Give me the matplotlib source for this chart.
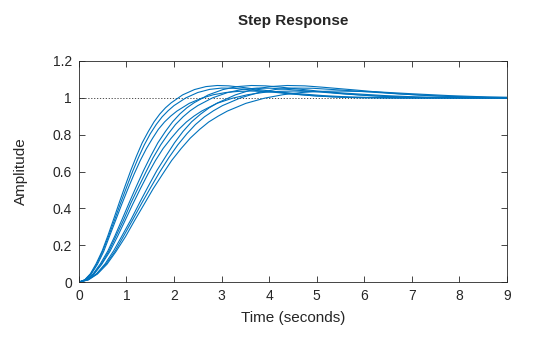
import matplotlib
matplotlib.use('Agg')
import matplotlib.pyplot as plt

# Amplitude samples (three overshoot levels)
y_mid = [0, 0.012, 0.045, 0.098, 0.168, 0.250, 0.338, 0.428, 0.514, 0.598, 0.675, 0.745, 0.805,
         0.855, 0.897, 0.930, 0.958, 1.000, 1.029, 1.046, 1.053, 1.052, 1.046, 1.033, 1.020, 1.010,
         1.004, 1.001, 0.999, 1.000, 1.000]
y_high = [0, 0.012, 0.045, 0.099, 0.170, 0.253, 0.342, 0.433, 0.521, 0.606, 0.684, 0.756, 0.818,
          0.870, 0.912, 0.946, 0.973, 1.016, 1.045, 1.061, 1.067, 1.065, 1.058, 1.042, 1.025, 1.013,
          1.005, 1.001, 0.999, 1.000, 1.000]
y_low = [0, 0.012, 0.044, 0.097, 0.166, 0.247, 0.334, 0.422, 0.506, 0.586, 0.660, 0.725, 0.781,
         0.829, 0.869, 0.901, 0.928, 0.970, 0.998, 1.017, 1.029, 1.035, 1.037, 1.033, 1.022, 1.012,
         1.005, 1.002, 1.000, 1.000, 1.000]

# Time samples for each of the nine responses (three groups of three)
t1 = [0, 0.12, 0.24, 0.36, 0.49, 0.61, 0.73, 0.85, 0.97, 1.09, 1.21, 1.33, 1.46, 1.58, 1.70, 1.82,
      1.94, 2.18, 2.43, 2.67, 2.91, 3.15, 3.40, 3.88, 4.37, 4.85, 5.34, 5.82, 6.79, 7.76, 9.0]
t2 = [0, 0.125, 0.25, 0.375, 0.5, 0.625, 0.75, 0.875, 1.0, 1.125, 1.25, 1.375, 1.5, 1.625, 1.75,
      1.875, 2.0, 2.25, 2.5, 2.75, 3.0, 3.25, 3.5, 4.0, 4.5, 5.0, 5.5, 6.0, 7.0, 8.0, 9.0]
t3 = [0, 0.13, 0.26, 0.39, 0.52, 0.64, 0.77, 0.90, 1.03, 1.16, 1.29, 1.42, 1.55, 1.67, 1.80, 1.93,
      2.06, 2.32, 2.58, 2.83, 3.09, 3.35, 3.61, 4.12, 4.64, 5.15, 5.67, 6.18, 7.21, 8.24, 9.27]
t4 = [0, 0.15, 0.30, 0.45, 0.61, 0.76, 0.91, 1.06, 1.21, 1.36, 1.51, 1.66, 1.82, 1.97, 2.12, 2.27,
      2.42, 2.72, 3.03, 3.33, 3.63, 3.93, 4.24, 4.84, 5.45, 6.05, 6.66, 7.26, 8.47, 9.68, 10.89]
t5 = [0, 0.16, 0.31, 0.47, 0.63, 0.78, 0.94, 1.09, 1.25, 1.41, 1.56, 1.72, 1.88, 2.03, 2.19, 2.34,
      2.50, 2.81, 3.13, 3.44, 3.75, 4.06, 4.38, 5.00, 5.63, 6.25, 6.88, 7.50, 8.75, 10.0, 11.25]
t6 = [0, 0.16, 0.32, 0.48, 0.65, 0.81, 0.97, 1.13, 1.29, 1.45, 1.61, 1.77, 1.94, 2.10, 2.26, 2.42,
      2.58, 2.90, 3.23, 3.55, 3.87, 4.19, 4.52, 5.16, 5.81, 6.45, 7.10, 7.74, 9.03, 10.32, 11.61]
t7 = [0, 0.18, 0.37, 0.55, 0.73, 0.91, 1.10, 1.28, 1.46, 1.64, 1.83, 2.01, 2.19, 2.37, 2.56, 2.74,
      2.92, 3.29, 3.65, 4.02, 4.38, 4.75, 5.11, 5.84, 6.57, 7.30, 8.03, 8.76, 10.22, 11.68, 13.14]
t8 = [0, 0.19, 0.38, 0.57, 0.76, 0.94, 1.13, 1.32, 1.51, 1.70, 1.89, 2.08, 2.27, 2.45, 2.64, 2.83,
      3.02, 3.40, 3.78, 4.15, 4.53, 4.91, 5.29, 6.04, 6.80, 7.55, 8.31, 9.06, 10.57, 12.08, 13.59]
t9 = [0, 0.20, 0.39, 0.59, 0.78, 0.98, 1.17, 1.37, 1.56, 1.76, 1.95, 2.15, 2.34, 2.54, 2.73, 2.93,
      3.12, 3.51, 3.90, 4.29, 4.68, 5.07, 5.46, 6.24, 7.02, 7.80, 8.58, 9.36, 10.92, 12.48, 14.04]

responses = [(t1, y_high), (t2, y_mid), (t3, y_low),
             (t4, y_high), (t5, y_mid), (t6, y_low),
             (t7, y_high), (t8, y_mid), (t9, y_low)]

x_ticks = [0, 1, 2, 3, 4, 5, 6, 7, 8, 9]
y_ticks = [0, 0.2, 0.4, 0.6, 0.8, 1.0, 1.2]
y_tick_labels = ['0', '0.2', '0.4', '0.6', '0.8', '1', '1.2']

plt.rcParams['font.family'] = ['Liberation Sans', 'DejaVu Sans']

fig = plt.figure(figsize=(5.6, 3.37), dpi=100)
ax = fig.add_axes([0.141, 0.163, 0.764, 0.656])

# reference line at the final value
ax.axhline(1.0, color='#333333', linestyle=(0, (1.5, 2)), linewidth=0.6, zorder=1)
for t, y in responses:
    ax.plot(t, y, color='#0072BD', linewidth=0.8, zorder=2)

ax.set_xlim(0, 9)
ax.set_ylim(0, 1.2)
ax.set_xticks(x_ticks)
ax.set_yticks(y_ticks)
ax.set_yticklabels(y_tick_labels)
ax.tick_params(direction='in', top=True, right=True, length=4, width=0.6,
               labelsize=10, colors='#262626', pad=5)
for s in ax.spines.values():
    s.set_linewidth(0.6)
    s.set_color('#262626')

ax.set_title('Step Response', fontsize=11, fontweight='bold', color='#262626', pad=26)
ax.set_xlabel('Time (seconds)', fontsize=11, color='#262626', labelpad=6)
ax.set_ylabel('Amplitude', fontsize=11, color='#262626', labelpad=18)

fig.savefig('out.png', dpi=100)
